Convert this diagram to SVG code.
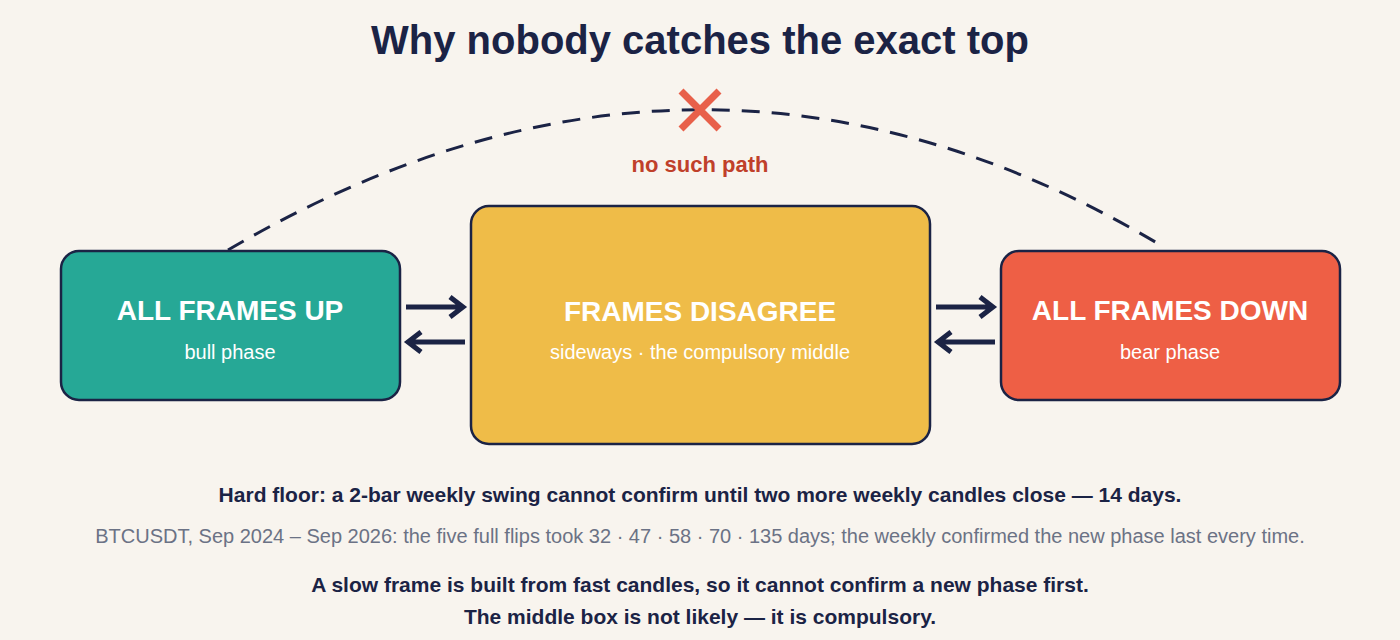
<svg xmlns="http://www.w3.org/2000/svg" width="1400" height="640" viewBox="0 0 1400 640">
<style>
text{font-family:"Liberation Sans",Arial,sans-serif;text-anchor:middle}
.box{stroke:#1b2345;stroke-width:2.5}
.t{font-weight:bold;font-size:28px;fill:#fff}
.s{font-size:20px;fill:#fff}
.arr{fill:none;stroke:#1b2345;stroke-width:5}
.b{font-weight:bold;font-size:21px;fill:#1b2345}
</style>
<rect width="1400" height="640" fill="#f8f4ee"/>
<text x="700" y="54" font-size="40" font-weight="bold" fill="#1b2345">Why nobody catches the exact top</text>
<g id="connectors">
<path d="M228,250 Q700,-27 1157,243" fill="none" stroke="#1b2345" stroke-width="3" stroke-dasharray="18,12"/>
<path class="arr" d="M406,307H463M450,297L463,307L450,317"/>
<path class="arr" d="M465,342H408M421,332L408,342L421,352"/>
<path class="arr" d="M936,307H993M980,297L993,307L980,317"/>
<path class="arr" d="M995,342H938M951,332L938,342L951,352"/>
</g>
<g id="nopath">
<path d="M681,91L719,129M719,91L681,129" stroke="#e8604a" stroke-width="7"/>
<text x="700" y="172" font-size="22" font-weight="bold" fill="#c0402a">no such path</text>
</g>
<g id="up">
<rect class="box" x="61" y="251" width="339" height="149" rx="18" fill="#26a896"/>
<text class="t" x="230" y="320">ALL FRAMES UP</text>
<text class="s" x="230" y="359">bull phase</text>
</g>
<g id="mid">
<rect class="box" x="471" y="206" width="459" height="238" rx="18" fill="#efbc48"/>
<text class="t" x="700" y="321" font-size="32" fill="#1b2345">FRAMES DISAGREE</text>
<text class="s" x="700" y="359" fill="#1b2345">sideways · the compulsory middle</text>
</g>
<g id="down">
<rect class="box" x="1001" y="251" width="339" height="149" rx="18" fill="#ee5f45"/>
<text class="t" x="1170" y="320">ALL FRAMES DOWN</text>
<text class="s" x="1170" y="359">bear phase</text>
</g>
<text class="b" x="700" y="502">Hard floor: a 2-bar weekly swing cannot confirm until two more weekly candles close — 14 days.</text>
<text x="700" y="543" font-size="20" fill="#6b7285">BTCUSDT, Sep 2024 – Sep 2026: the five full flips took 32 · 47 · 58 · 70 · 135 days; the weekly confirmed the new phase last every time.</text>
<text class="b" x="700" y="592">A slow frame is built from fast candles, so it cannot confirm a new phase first.</text>
<text class="b" x="700" y="624">The middle box is not likely — it is compulsory.</text>
</svg>
